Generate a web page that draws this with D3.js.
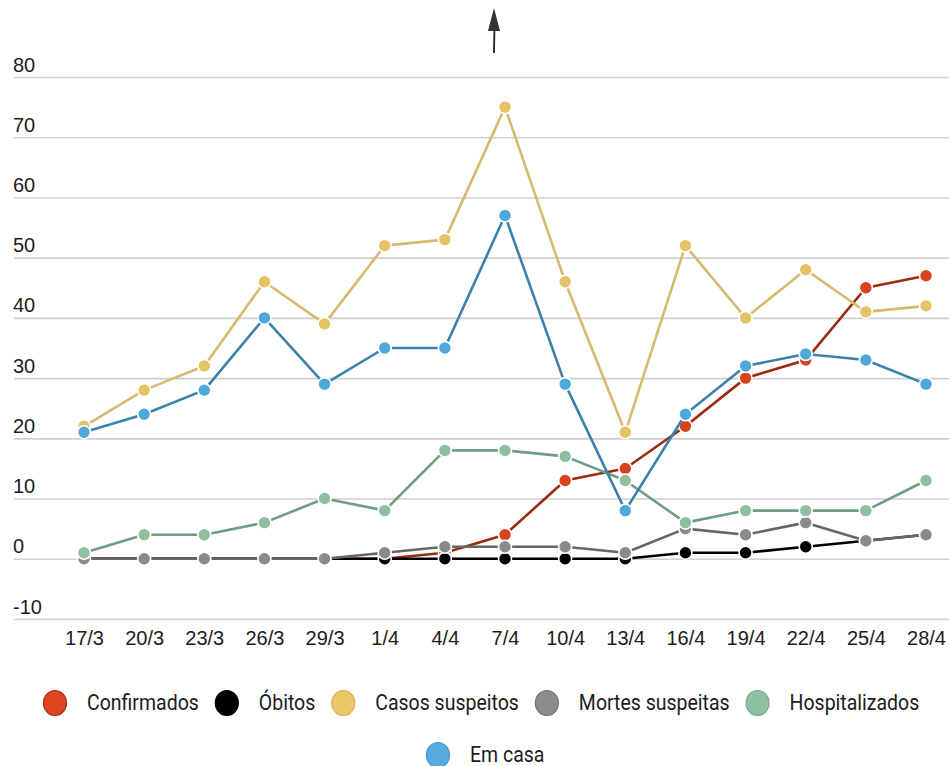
<!DOCTYPE html>
<html>
<head>
<meta charset="utf-8">
<script src="https://cdn.jsdelivr.net/npm/d3@7"></script>
<style>
  body { margin: 0; background: #fff; }
  svg { display: block; font-family: Roboto, "Noto Sans", sans-serif; }
</style>
</head>
<body>
<svg id="chart" width="949" height="766"></svg>
<script>
// Dates of each report
const dates = ["17/3","20/3","23/3","26/3","29/3","1/4","4/4","7/4","10/4","13/4","16/4","19/4","22/4","25/4","28/4"];

// Values per series
const confirmados     = [0, 0, 0, 0, 0, 0, 1, 4, 13, 15, 22, 30, 33, 45, 47];
const obitos          = [0, 0, 0, 0, 0, 0, 0, 0, 0, 0, 1, 1, 2, 3, 4];
const casosSuspeitos  = [22, 28, 32, 46, 39, 52, 53, 75, 46, 21, 52, 40, 48, 41, 42];
const mortesSuspeitas = [0, 0, 0, 0, 0, 1, 2, 2, 2, 1, 5, 4, 6, 3, 4];
const hospitalizados  = [1, 4, 4, 6, 10, 8, 18, 18, 17, 13, 6, 8, 8, 8, 13];
const emCasa          = [21, 24, 28, 40, 29, 35, 35, 57, 29, 8, 24, 32, 34, 33, 29];

const yTicks = [-10, 0, 10, 20, 30, 40, 50, 60, 70, 80];

const seriesNames = ["Confirmados", "Óbitos", "Casos suspeitos", "Mortes suspeitas", "Hospitalizados", "Em casa"];
const seriesValues = [confirmados, obitos, casosSuspeitos, mortesSuspeitas, hospitalizados, emCasa];
const dotColors  = ["#d8431c", "#000000", "#e6c267", "#8a8a8a", "#8fbf9f", "#4fa8dc"];
const lineColors = ["#9a2a10", "#000000", "#d6ba6e", "#666666", "#6e9c84", "#3b82ab"];
const legendFill = ["#e0461e", "#000000", "#ebc766", "#8c8c8c", "#8fc0a0", "#55addf"];
const legendEdge = ["#9a2d12", "#000000", "#d3ad56", "#6f6f6f", "#77a888", "#3f93c6"];

const svg = d3.select("#chart");

const x = d3.scalePoint().domain(dates).range([84, 926]);
const y = d3.scaleLinear().domain([-10, 80]).range([619, 77]);

// Horizontal gridlines with labels sitting above each line
const yAxis = svg.append("g")
  .attr("transform", "translate(14,0)")
  .call(d3.axisRight(y).tickValues(yTicks).tickSize(949 - 14).tickFormat(d => String(d)));
yAxis.select(".domain").remove();
yAxis.selectAll(".tick line").attr("stroke", "#cfcfcf").attr("stroke-width", 1.6);
yAxis.selectAll(".tick text")
  .attr("x", -1).attr("y", -6).attr("dy", 0)
  .attr("text-anchor", "start")
  .attr("fill", "#1c1c1c")
  .style("font-size", "20px")
  .style("font-weight", 500);

// Category labels
const xAxis = svg.append("g")
  .attr("transform", "translate(0,645)")
  .call(d3.axisBottom(x).tickSize(0));
xAxis.select(".domain").remove();
xAxis.selectAll(".tick text")
  .attr("fill", "#1c1c1c")
  .attr("y", 0).attr("dy", 0)
  .style("font-size", "20px")
  .style("font-weight", 500);

// Series lines and markers
const line = d3.line().x((d, i) => x(dates[i])).y(d => y(d));
seriesValues.forEach((vals, s) => {
  const g = svg.append("g");
  g.append("path")
    .attr("d", line(vals))
    .attr("fill", "none")
    .attr("stroke", lineColors[s])
    .attr("stroke-width", 2.6)
    .attr("stroke-linejoin", "round");
  g.selectAll("circle")
    .data(vals)
    .join("circle")
    .attr("cx", (d, i) => x(dates[i]))
    .attr("cy", d => y(d))
    .attr("r", 6.5)
    .attr("fill", dotColors[s])
    .attr("stroke", "#fff")
    .attr("stroke-width", 1.6);
});

// Upward arrow above the chart
svg.append("line")
  .attr("x1", 494).attr("y1", 53).attr("x2", 494.5).attr("y2", 24)
  .attr("stroke", "#222").attr("stroke-width", 1.8);
svg.append("path")
  .attr("d", "M494,8 L500,31 L488,31 Z")
  .attr("fill", "#333");

// Legend: two rows
const legendRows = [[0, 1, 2, 3, 4], [5]];
const rowY = [703, 755];
const rowStart = [43, 426];
legendRows.forEach((row, r) => {
  const g = svg.append("g").attr("transform", `translate(${rowStart[r]},${rowY[r]})`);
  let cx = 0;
  row.forEach(s => {
    const item = g.append("g").attr("transform", `translate(${cx},0)`);
    item.append("ellipse")
      .attr("cx", 12).attr("cy", 0).attr("rx", 11.5).attr("ry", 12.5)
      .attr("fill", legendFill[s])
      .attr("stroke", legendEdge[s]).attr("stroke-width", 1.2);
    const t = item.append("text")
      .attr("transform", "translate(44,7) scale(1,1.1)")
      .attr("fill", "#1c1c1c")
      .style("font-size", "19.5px")
      .text(seriesNames[s]);
    const w = t.node().getComputedTextLength();
    cx += 44 + w + 16;
  });
});
</script>
</body>
</html>
